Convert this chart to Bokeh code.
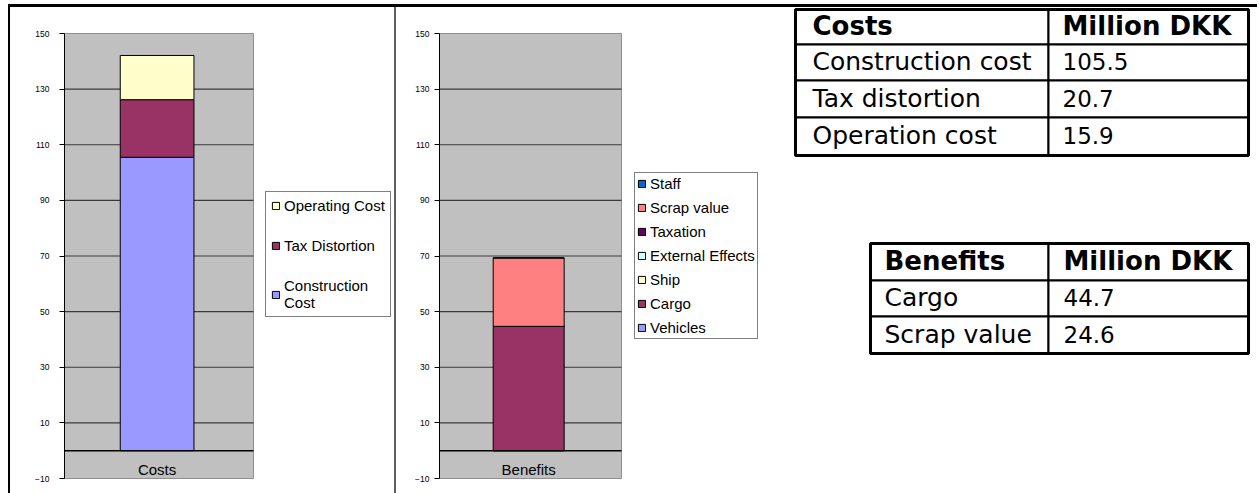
from bokeh.plotting import figure
from bokeh.models import (Range1d, FixedTicker, Legend, LegendItem, ColumnDataSource, Spacer)
from bokeh.layouts import row, column
from bokeh.core.properties import value
from bokeh.embed import file_html
from bokeh.resources import INLINE

# ---------------- data ----------------
cost_category = ["Costs"]
cost_series = ["Construction Cost", "Tax Distortion", "Operating Cost"]   # bottom -> top
cost_values = [105.5, 20.7, 15.9]
cost_colors = ["#9999FF", "#993366", "#FFFFCC"]
cost_legend_labels = ["Construction\nCost", "Tax Distortion", "Operating Cost"]

benefit_category = ["Benefits"]
benefit_series = ["Vehicles", "Cargo", "Ship", "External Effects", "Taxation", "Scrap value", "Staff"]  # bottom -> top
benefit_values = [0.0, 44.7, 0.0, 0.0, 0.0, 24.6, 0.0]
benefit_colors = ["#9999FF", "#993366", "#FFFFCC", "#CCFFFF", "#660066", "#FF8080", "#0066CC"]

y_min, y_max = -10, 150
y_ticks = [-10, 10, 30, 50, 70, 90, 110, 130, 150]
grid_ticks = [10, 30, 50, 70, 90, 110, 130]

cost_table_header = ["Costs", "Million DKK"]
cost_table_items = ["Construction cost", "Tax distortion", "Operation cost"]
cost_table_values = [105.5, 20.7, 15.9]

benefit_table_header = ["Benefits", "Million DKK"]
benefit_table_items = ["Cargo", "Scrap value"]
benefit_table_values = [44.7, 24.6]

CHART_FONT = value("Liberation Sans")
TABLE_FONT = value("DejaVu Sans")
FIG_W = 384
FIG_H = 486
AREA_TOP_PX = 26      # gap above the plot area inside the figure
AREA_BOTTOM_PX = 15   # gap below the plot area inside the figure


def make_chart(category, series, values, colors, legend_labels, border_left, area_px,
               legend_loc, legend_padding, legend_spacing, tick_standoff):
    frame_w = FIG_W - border_left
    ncat = len(category)
    upp = (y_max - y_min) / (FIG_H - AREA_TOP_PX - AREA_BOTTOM_PX)
    p = figure(width=FIG_W, height=FIG_H, x_range=Range1d(0, ncat * frame_w / area_px),
               y_range=Range1d(y_min - AREA_BOTTOM_PX * upp, y_max + AREA_TOP_PX * upp),
               output_backend="svg", toolbar_location=None, title=None,
               x_axis_location=None, min_border_left=border_left, min_border_right=0,
               min_border_top=0, min_border_bottom=0,
               background_fill_color="white", border_fill_color="white",
               outline_line_color=None)
    p.xgrid.visible = False
    p.ygrid.visible = False
    # plot area
    p.quad(left=[0], right=[ncat], bottom=[y_min], top=[y_max], fill_color="#C0C0C0",
           line_color="#909090", line_width=1)
    p.segment(x0=[0] * len(grid_ticks), x1=[ncat] * len(grid_ticks), y0=grid_ticks,
              y1=grid_ticks, line_color="#3a3a3a", line_width=1.2)
    xs = [i + 0.49 for i in range(ncat)]
    data = {"x": xs}
    for s, v in zip(series, values):
        data[s] = [v]
    src = ColumnDataSource(data)
    rends = p.vbar_stack(series, x="x", width=0.39, color=colors, line_color="black",
                         line_width=1, source=src)
    p.segment(x0=[0], x1=[ncat], y0=[0], y1=[0], line_color="black", line_width=1.5)
    p.text(x=xs, y=[-6.8] * ncat, text=category, text_align="center", text_baseline="middle",
           text_font=CHART_FONT, text_font_size="15px", text_color="black")
    p.yaxis.ticker = FixedTicker(ticks=y_ticks)
    p.yaxis.bounds = (y_min, y_max)
    p.yaxis.major_label_text_font = "Liberation Sans"
    p.yaxis.major_label_text_font_size = "8.5px"
    p.yaxis.major_label_text_color = "black"
    p.yaxis.major_tick_out = 5
    p.yaxis.major_tick_in = 0
    p.yaxis.minor_tick_line_color = None
    p.yaxis.axis_line_color = "black"
    p.yaxis.major_tick_line_color = "black"
    p.yaxis.major_label_standoff = tick_standoff
    items = [LegendItem(label=lab, renderers=[r]) for lab, r in zip(legend_labels, rends)][::-1]
    leg = Legend(items=items, location=legend_loc, padding=legend_padding,
                 spacing=legend_spacing, margin=0, label_standoff=4,
                 glyph_width=9, glyph_height=9, label_height=17,
                 label_text_font="Liberation Sans", label_text_font_size="15px",
                 label_text_color="black", label_text_line_height=1.2,
                 border_line_color="black", border_line_width=1,
                 background_fill_color="white", background_fill_alpha=1.0)
    p.add_layout(leg)
    return p


p1 = make_chart(cost_category, cost_series, cost_values, cost_colors, cost_legend_labels,
                54, 189, (201, 176), 5, 23, 10)
p2 = make_chart(benefit_category, benefit_series, benefit_values, benefit_colors, benefit_series,
                43, 182, (195, 154), 2, 7, 5)

# ---------------- tables ----------------
p3 = figure(width=479, height=FIG_H, x_range=Range1d(0, 479), y_range=Range1d(FIG_H, 0),
            output_backend="svg", toolbar_location=None, x_axis_location=None,
            y_axis_location=None, min_border=0, outline_line_color=None, title=None,
            background_fill_color="white", border_fill_color="white")
p3.grid.visible = False


def draw_table(p, header, items, vals, x0, xmid, x1, rows, tx0, tx1):
    nrows = len(rows) - 1
    lefts, rights, tops, bottoms = [], [], [], []
    for i in range(nrows):
        for (a, b) in ((x0, xmid), (xmid, x1)):
            lefts.append(a); rights.append(b); tops.append(rows[i]); bottoms.append(rows[i + 1])
    p.quad(left=lefts, right=rights, top=tops, bottom=bottoms, fill_color="white",
           line_color="black", line_width=2)
    p.quad(left=[x0], right=[x1], top=[rows[0]], bottom=[rows[-1]], fill_color=None,
           line_color="black", line_width=3)
    centers = [(rows[i] + rows[i + 1]) / 2 - 1 for i in range(nrows)]
    p.text(x=[tx0, tx1], y=[centers[0]] * 2, text=header, text_baseline="middle",
           text_font=TABLE_FONT, text_font_size="26px", text_font_style="bold", text_color="black")
    p.text(x=[tx0] * len(items), y=centers[1:], text=items, text_baseline="middle",
           text_font=TABLE_FONT, text_font_size="25px", text_color="black")
    p.text(x=[tx1] * len(vals), y=centers[1:], text=[f"{v:.1f}" for v in vals],
           text_baseline="middle", text_font=TABLE_FONT, text_font_size="23px", text_color="black")


draw_table(p3, cost_table_header, cost_table_items, cost_table_values,
           15, 268, 468, [2, 37, 73, 110, 148], 32, 282)
draw_table(p3, benefit_table_header, benefit_table_items, benefit_table_values,
           90, 268, 468, [236, 273, 309, 346], 104, 283)

top_gap = Spacer(width=1259, height=4)
top_bar = row(Spacer(width=8, height=3),
              Spacer(width=1249, height=3, styles={"background-color": "black"}))
left_gap = Spacer(width=8, height=FIG_H)
left_bar = Spacer(width=2, height=FIG_H, styles={"background-color": "black"})
divider = Spacer(width=2, height=FIG_H, styles={"background-color": "#606060"})

layout = column(top_gap, top_bar, row(left_gap, left_bar, p1, divider, p2, p3))

open("out.html", "w").write(file_html(layout, INLINE))
